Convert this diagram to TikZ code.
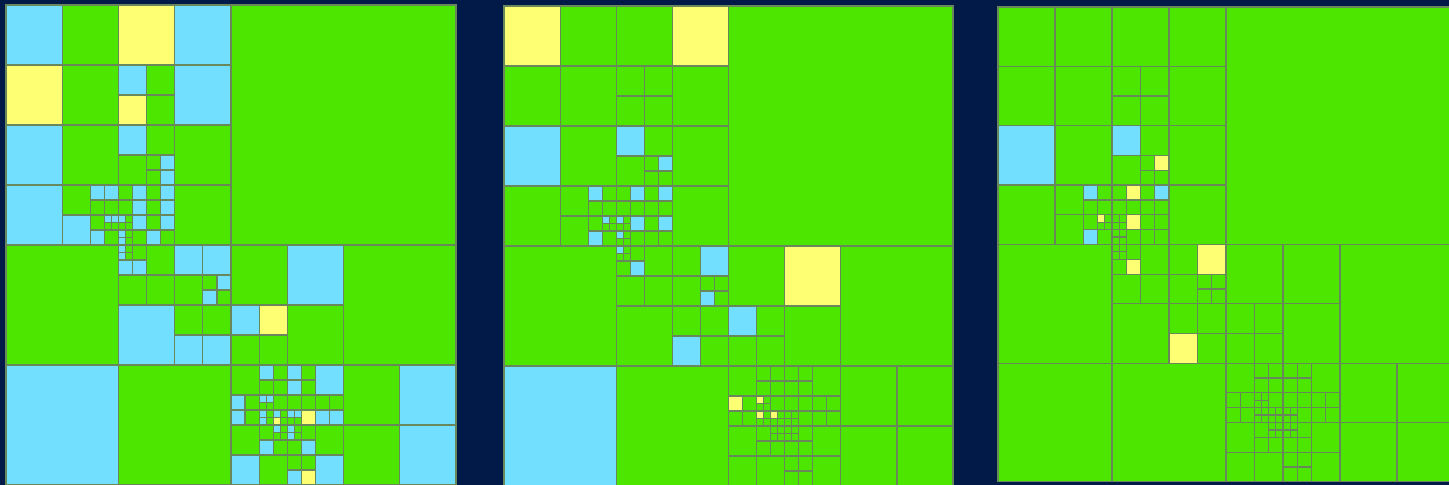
\documentclass[tikz,border=0pt]{standalone}
\usepackage{xcolor}
\usepackage{tikz}

\definecolor{mapnavy}{HTML}{011A48}
\definecolor{cellgreen}{HTML}{4CE600}
\definecolor{cellblue}{HTML}{73DFFF}
\definecolor{cellyellow}{HTML}{FFFF73}
\definecolor{cellline}{HTML}{68875A}

% quadtree cells that are split (x/y/size, in finest grid units), same for all panels
\newcommand{\qtsplits}{0/0/32,
  0/0/16, 0/0/8, 8/0/8, 0/8/8, 8/8/8,
  8/4/4, 8/8/4, 10/10/2, 4/12/4, 6/12/2, 6/14/2, 7/14/1, 8/12/4, 8/12/2,
  10/12/2, 8/14/2, 8/14/1, 8/15/1, 10/14/2,
  0/16/16, 8/16/8, 8/16/4, 8/16/2, 8/16/1, 12/16/4, 14/18/2, 12/20/4,
  16/16/16, 16/16/8, 16/20/4, 24/24/8, 16/24/8, 16/24/4, 18/24/2, 16/26/2,
  18/26/2, 18/26/1, 18/27/1, 19/27/1, 20/24/4, 20/24/2, 20/26/2, 20/27/1,
  22/26/2, 16/28/4, 18/28/2, 19/28/1, 20/28/4, 20/28/2, 20/28/1, 20/30/2}

\begin{document}
\begin{tikzpicture}[x=0.5pt, y=-0.5pt,
  gridline/.style={draw=cellline, line width=0.6pt}]
\useasboundingbox (0,0) rectangle (1449,485);
\clip (0,0) rectangle (1449,485);

% Background
\fill[mapnavy] (0,0) rectangle (1449,485);

% Panel 1
\begin{scope}[shift={(6,5)}, x=7.03125pt, y=-7.5pt]
  \fill[cellgreen] (0,0) rectangle (32,32);
  \foreach \x/\y/\sz in {0/0/4, 12/0/4, 8/4/2, 12/4/4, 0/8/4, 8/8/2, 11/10/1, 11/11/1,
    0/12/4, 6/12/1, 7/12/1, 4/14/2, 7/14/.5, 7.5/14/.5, 6/15/1, 9/12/1, 9/13/1,
    11/12/1, 11/13/1, 8/14/.5, 9/14/1, 8/15/.5, 8/15.5/.5, 11/14/1, 10/15/1,
    0/24/8, 8/16/.5, 8/16.5/.5, 8/17/1, 9/17/1, 12/16/2, 14/16/2, 15/18/1, 14/19/1,
    8/20/4, 12/22/2, 14/22/2,
    20/16/4, 16/20/2, 28/24/4, 28/28/4, 18/24/1, 16/26/1, 16/27/1, 18/26/.5,
    18.5/26/.5, 18/27/.5, 18/27.5/.5, 19/27/.5, 20/24/1, 20/25/1, 22/24/2,
    20/27/.5, 20.5/27/.5, 22/27/1, 23/27/1, 19/28/.5, 18/29/1, 20/28/.5,
    20/28.5/.5, 21/29/1, 16/30/2, 20/31/1, 22/30/2}
    \fill[cellblue] (\x,\y) rectangle ++(\sz,\sz);
  \foreach \x/\y/\sz in {8/0/4, 0/4/4, 8/6/2, 18/20/2, 19/27.5/.5, 21/27/1, 21/31/1}
    \fill[cellyellow] (\x,\y) rectangle ++(\sz,\sz);
  \foreach \x/\y/\sz in \qtsplits
    \draw[gridline] ({\x+\sz/2},\y) -- ++(0,\sz) (\x,{\y+\sz/2}) -- ++(\sz,0);
  \draw[gridline] (0,0) rectangle (32,32);
\end{scope}

% Panel 2
\begin{scope}[shift={(504,6)}, x=7.016pt, y=-7.5pt]
  \fill[cellgreen] (0,0) rectangle (32,32);
  \foreach \x/\y/\sz in {0/8/4, 8/8/2, 11/10/1, 6/12/1, 9/12/1, 11/12/1, 7/14/.5,
    6/15/1, 8/14/.5, 9/14/1, 8/15/.5, 11/14/1, 0/24/8, 8/16/.5, 9/17/1,
    14/16/2, 14/19/1, 12/22/2, 16/20/2}
    \fill[cellblue] (\x,\y) rectangle ++(\sz,\sz);
  \foreach \x/\y/\sz in {0/0/4, 12/0/4, 20/16/4, 16/26/1, 18/26/.5, 18/27/.5, 19/27/.5}
    \fill[cellyellow] (\x,\y) rectangle ++(\sz,\sz);
  \foreach \x/\y/\sz in \qtsplits
    \draw[gridline] ({\x+\sz/2},\y) -- ++(0,\sz) (\x,{\y+\sz/2}) -- ++(\sz,0);
  \draw[gridline] (0,0) rectangle (32,32);
\end{scope}

% Panel 3
\begin{scope}[shift={(998,7)}, x=7.125pt, y=-7.42pt]
  \fill[cellgreen] (0,0) rectangle (32,32);
  \foreach \x/\y/\sz in {0/8/4, 8/8/2, 6/12/1, 11/12/1, 6/15/1}
    \fill[cellblue] (\x,\y) rectangle ++(\sz,\sz);
  \foreach \x/\y/\sz in {11/10/1, 9/12/1, 7/14/.5, 9/14/1, 9/17/1, 14/16/2, 12/22/2}
    \fill[cellyellow] (\x,\y) rectangle ++(\sz,\sz);
  \foreach \x/\y/\sz in \qtsplits
    \draw[gridline] ({\x+\sz/2},\y) -- ++(0,\sz) (\x,{\y+\sz/2}) -- ++(\sz,0);
  \draw[gridline] (0,0) rectangle (32,32);
\end{scope}
\end{tikzpicture}
\end{document}
